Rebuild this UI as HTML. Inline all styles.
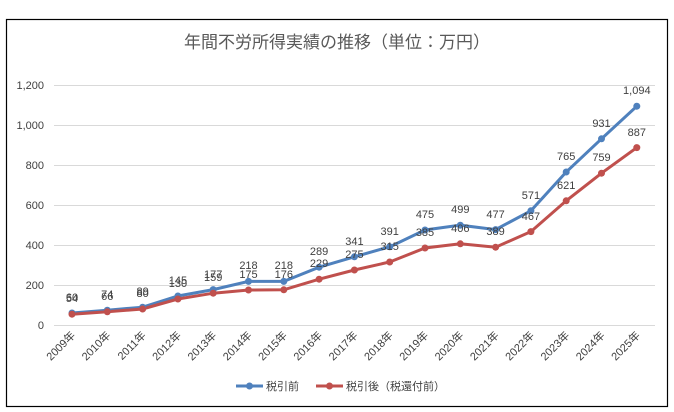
<!DOCTYPE html>
<html><head><meta charset="utf-8"><style>
body{margin:0;background:#fff}
svg{display:block;font-family:"Liberation Sans","Noto Sans CJK JP",sans-serif}
.t{font-size:11px;fill:#404040}
.l{font-size:11px;fill:#404040;text-anchor:middle}
</style></head><body>
<svg width="674" height="412" viewBox="0 0 674 412">
<rect x="0" y="0" width="674" height="412" fill="#fff"/>
<rect x="6.5" y="19.5" width="661" height="387" fill="#fff" stroke="#000" stroke-width="1.2"/>
<text x="337" y="48" text-anchor="middle" style="font-size:17px;fill:#595959">年間不労所得実績の推移（単位：万円）</text>
<g stroke="#d9d9d9" stroke-width="1">
<line x1="54" x2="655" y1="85.5" y2="85.5"/><line x1="54" x2="655" y1="125.5" y2="125.5"/>
<line x1="54" x2="655" y1="165.5" y2="165.5"/><line x1="54" x2="655" y1="205.5" y2="205.5"/>
<line x1="54" x2="655" y1="245.5" y2="245.5"/><line x1="54" x2="655" y1="285.5" y2="285.5"/>
<line x1="54" x2="655" y1="325.5" y2="325.5"/>
</g>
<g class="t" text-anchor="end">
<text x="44" y="89">1,200</text><text x="44" y="129">1,000</text><text x="44" y="169">800</text>
<text x="44" y="209">600</text><text x="44" y="249">400</text><text x="44" y="289">200</text><text x="44" y="329">0</text>
</g>
<polyline fill="none" stroke="#4f81bd" stroke-width="3" points="72,313 107.3,310.2 142.6,307.2 177.9,296 213.2,289.6 248.5,281.4 283.8,281.4 319.1,267.2 354.4,256.8 389.7,246.8 425,230 460.3,225.2 495.6,229.6 530.9,210.8 566.2,172 601.5,138.8 636.8,106.2"/>
<polyline fill="none" stroke="#c0504d" stroke-width="3" points="72,314.2 107.3,311.8 142.6,309 177.9,299 213.2,293.2 248.5,290 283.8,289.8 319.1,279.2 354.4,270 389.7,262 425,248 460.3,243.8 495.6,247.2 530.9,231.6 566.2,200.8 601.5,173.2 636.8,147.6"/>
<g fill="#4f81bd">
<circle cx="72" cy="313" r="3.5"/><circle cx="107.3" cy="310.2" r="3.5"/><circle cx="142.6" cy="307.2" r="3.5"/><circle cx="177.9" cy="296" r="3.5"/><circle cx="213.2" cy="289.6" r="3.5"/><circle cx="248.5" cy="281.4" r="3.5"/><circle cx="283.8" cy="281.4" r="3.5"/><circle cx="319.1" cy="267.2" r="3.5"/><circle cx="354.4" cy="256.8" r="3.5"/><circle cx="389.7" cy="246.8" r="3.5"/><circle cx="425" cy="230" r="3.5"/><circle cx="460.3" cy="225.2" r="3.5"/><circle cx="495.6" cy="229.6" r="3.5"/><circle cx="530.9" cy="210.8" r="3.5"/><circle cx="566.2" cy="172" r="3.5"/><circle cx="601.5" cy="138.8" r="3.5"/><circle cx="636.8" cy="106.2" r="3.5"/>
</g>
<g fill="#c0504d">
<circle cx="72" cy="314.2" r="3.5"/><circle cx="107.3" cy="311.8" r="3.5"/><circle cx="142.6" cy="309" r="3.5"/><circle cx="177.9" cy="299" r="3.5"/><circle cx="213.2" cy="293.2" r="3.5"/><circle cx="248.5" cy="290" r="3.5"/><circle cx="283.8" cy="289.8" r="3.5"/><circle cx="319.1" cy="279.2" r="3.5"/><circle cx="354.4" cy="270" r="3.5"/><circle cx="389.7" cy="262" r="3.5"/><circle cx="425" cy="248" r="3.5"/><circle cx="460.3" cy="243.8" r="3.5"/><circle cx="495.6" cy="247.2" r="3.5"/><circle cx="530.9" cy="231.6" r="3.5"/><circle cx="566.2" cy="200.8" r="3.5"/><circle cx="601.5" cy="173.2" r="3.5"/><circle cx="636.8" cy="147.6" r="3.5"/>
</g>
<g class="l">
<text x="72" y="301">60</text><text x="107.3" y="298">74</text><text x="142.6" y="295">89</text><text x="177.9" y="284">145</text><text x="213.2" y="278">177</text><text x="248.5" y="269">218</text><text x="283.8" y="269">218</text><text x="319.1" y="255">289</text><text x="354.4" y="245">341</text><text x="389.7" y="235">391</text><text x="425" y="218">475</text><text x="460.3" y="213">499</text><text x="495.6" y="218">477</text><text x="530.9" y="199">571</text><text x="566.2" y="160">765</text><text x="601.5" y="127">931</text><text x="636.8" y="94">1,094</text>
<text x="72" y="302">54</text><text x="107.3" y="300">66</text><text x="142.6" y="297">80</text><text x="177.9" y="287">130</text><text x="213.2" y="281">159</text><text x="248.5" y="278">175</text><text x="283.8" y="278">176</text><text x="319.1" y="267">229</text><text x="354.4" y="258">275</text><text x="389.7" y="250">315</text><text x="425" y="236">385</text><text x="460.3" y="232">406</text><text x="495.6" y="235">389</text><text x="530.9" y="220">467</text><text x="566.2" y="189">621</text><text x="601.5" y="161">759</text><text x="636.8" y="136">887</text>
</g>
<g class="t" text-anchor="end">
<text transform="translate(76,336) rotate(-45)">2009年</text>
<text transform="translate(111.3,336) rotate(-45)">2010年</text>
<text transform="translate(146.6,336) rotate(-45)">2011年</text>
<text transform="translate(181.9,336) rotate(-45)">2012年</text>
<text transform="translate(217.2,336) rotate(-45)">2013年</text>
<text transform="translate(252.5,336) rotate(-45)">2014年</text>
<text transform="translate(287.8,336) rotate(-45)">2015年</text>
<text transform="translate(323.1,336) rotate(-45)">2016年</text>
<text transform="translate(358.4,336) rotate(-45)">2017年</text>
<text transform="translate(393.7,336) rotate(-45)">2018年</text>
<text transform="translate(429,336) rotate(-45)">2019年</text>
<text transform="translate(464.3,336) rotate(-45)">2020年</text>
<text transform="translate(499.6,336) rotate(-45)">2021年</text>
<text transform="translate(534.9,336) rotate(-45)">2022年</text>
<text transform="translate(570.2,336) rotate(-45)">2023年</text>
<text transform="translate(605.5,336) rotate(-45)">2024年</text>
<text transform="translate(640.8,336) rotate(-45)">2025年</text>
</g>
<line x1="236" x2="263" y1="386" y2="386" stroke="#4f81bd" stroke-width="3"/><circle cx="249.5" cy="386" r="3.5" fill="#4f81bd"/>
<text x="266" y="390" class="t">税引前</text>
<line x1="316" x2="343" y1="386" y2="386" stroke="#c0504d" stroke-width="3"/><circle cx="329.5" cy="386" r="3.5" fill="#c0504d"/>
<text x="346" y="390" class="t">税引後（税還付前）</text>
</svg>
</body></html>
